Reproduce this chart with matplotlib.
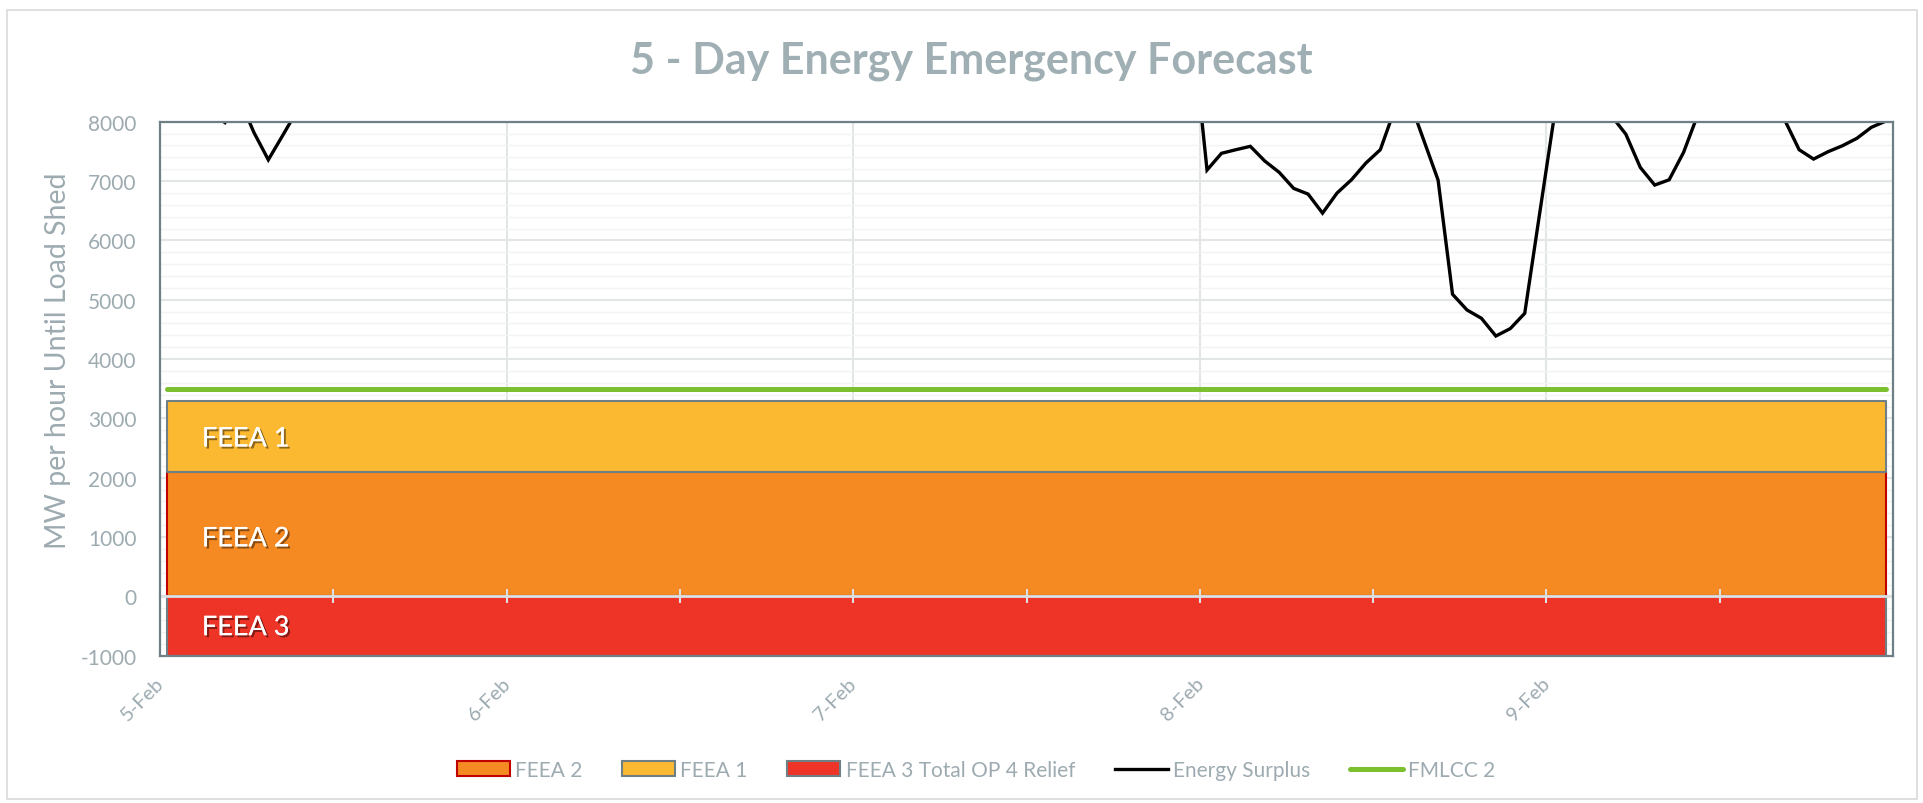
import matplotlib
matplotlib.use('Agg')
import matplotlib.pyplot as plt
import numpy as np
from matplotlib.patches import Rectangle, Patch
from matplotlib.lines import Line2D
from matplotlib.transforms import ScaledTranslation
import matplotlib.patheffects as pe

plt.rcParams['font.family'] = ['Lato', 'DejaVu Sans']
plt.rcParams['axes.unicode_minus'] = False

# ---------------- data ----------------
day_labels = ['5-Feb', '6-Feb', '7-Feb', '8-Feb', '9-Feb']
hours_per_day = 24

# hourly Energy Surplus (MW); values above 8000 are off the visible scale
energy_surplus = [
    # 5-Feb
    8700, 8500, 8350, 8150, 7985, 8390, 7820, 7358, 7770, 8190, 8700, 9100,
    9400, 9600, 9800, 10000, 10100, 10000, 9800, 9700, 9900, 10200, 10500, 10700,
    # 6-Feb
    10800, 10900, 11000, 10900, 10700, 10400, 10000, 9600, 9300, 9200, 9300, 9500,
    9700, 9900, 10000, 9900, 9700, 9500, 9400, 9600, 9900, 10200, 10400, 10500,
    # 7-Feb
    10600, 10700, 10800, 10700, 10500, 10200, 9800, 9400, 9100, 9000, 9100, 9300,
    9500, 9600, 9700, 9600, 9400, 9200, 9100, 9300, 9600, 9900, 10000, 9540,
    # 8-Feb
    7185, 7467, 7528, 7585, 7337, 7146, 6876, 6780, 6459, 6797, 7021, 7303,
    7528, 8212, 8370, 7693, 7016, 5092, 4827, 4687, 4388, 4513, 4771, 6400,
    # 9-Feb
    8020, 9000, 9400, 8900, 8100, 7790, 7230, 6932, 7021, 7484, 8130, 8800,
    9200, 9400, 9100, 8600, 8030, 7528, 7370, 7494, 7595, 7720, 7905, 8010,
]
n_hours = len(energy_surplus)

feea2 = [2100] * n_hours          # stacked from 0
feea1 = [1200] * n_hours          # stacked on top of FEEA 2 (to 3300)
feea3_total_op4 = [-1000] * n_hours
fmlcc2 = [3500] * n_hours

series_names = ['FEEA 2', 'FEEA 1', 'FEEA 3 Total OP 4 Relief', 'Energy Surplus', 'FMLCC 2']

# ---------------- styling ----------------
W, H = 1923, 804
fig = plt.figure(figsize=(W / 100, H / 100), dpi=100)
fig.patch.set_facecolor('white')

ax_left, ax_right, ax_top, ax_bottom = 160, 1893, 122.7, 656.7
ax = fig.add_axes([ax_left / W, 1 - ax_bottom / H, (ax_right - ax_left) / W, (ax_bottom - ax_top) / H])

c_text = '#9DABB1'
c_yellow = '#FBB931'
c_orange = '#F48A21'
c_red = '#EE3427'
c_green = '#7CBF2F'
c_edge = '#6F7F86'
c_rededge = '#C00000'

x = np.arange(n_hours) + 0.5
e = np.array(energy_surplus, dtype=float)
f2 = np.array(feea2, dtype=float)
f1 = np.array(feea1, dtype=float)
f3 = np.array(feea3_total_op4, dtype=float)
g = np.array(fmlcc2, dtype=float)

ax.set_xlim(0, n_hours)
ax.set_ylim(-1000, 8000)

# gridlines
ax.set_yticks(np.arange(-1000, 8001, 1000))
ax.set_yticks(np.arange(-1000, 8001, 200), minor=True)
ax.grid(which='major', axis='y', color='#E3E6E7', lw=1.5, zorder=0)
ax.grid(which='minor', axis='y', color='#F2F3F4', lw=1.0, zorder=0)
ax.set_axisbelow(True)
for d in range(1, len(day_labels)):
    ax.axvline(d * hours_per_day, color='#E3E6E7', lw=1.5, zorder=0.5)

# stacked areas
ax.fill_between(x, 0, f2, facecolor=c_orange, edgecolor=c_rededge, lw=1.5, zorder=2)
ax.fill_between(x, f2, f2 + f1, facecolor=c_yellow, edgecolor=c_edge, lw=1.5, zorder=2.1)
ax.fill_between(x, f3, 0, facecolor=c_red, edgecolor=c_edge, lw=1.5, zorder=2)

# category axis line at 0 with tick marks
ax.axhline(0, color='#DDE0E2', lw=2, zorder=3)
tick_pos = np.arange(0, n_hours + 1, 12)
ax.plot(tick_pos, np.zeros(len(tick_pos)), ls='none', marker='|', markersize=9.5,
        markeredgewidth=1.5, color='#DDE0E2', zorder=3, clip_on=False)

# lines
ax.plot(x, g, color=c_green, lw=3.6, solid_capstyle='round', zorder=4)
ax.plot(x, e, color='black', lw=2.4, zorder=5, solid_joinstyle='miter')

# area labels
shadow = [pe.withSimplePatchShadow(offset=(1.5, -1.5), shadow_rgbFace='black', alpha=0.45), pe.Normal()]
for txt, yv in [('FEEA 1', 2653), ('FEEA 2', 969), ('FEEA 3', -528)]:
    ax.text(2.9, yv, txt, color='white', fontsize=19.5, ha='left', va='center', zorder=6, path_effects=shadow)

# spines
for s in ax.spines.values():
    s.set_color(c_edge)
    s.set_linewidth(1.6)
    s.set_zorder(6)

# y ticks
ax.tick_params(axis='y', which='both', length=0, pad=17, labelsize=15, labelcolor=c_text)
ax.set_ylabel('MW per hour Until Load Shed', fontsize=20.5, color=c_text)
ax.yaxis.set_label_coords(-0.0514, 0.554)

# x ticks
ax.set_xticks([x[d * hours_per_day] for d in range(len(day_labels))])
ax.set_xticklabels(day_labels)
ax.tick_params(axis='x', length=0, pad=13, labelsize=14.5, labelcolor=c_text)
for lab in ax.get_xticklabels():
    lab.set_rotation(45)
    lab.set_ha('right')
    lab.set_va('top')
    lab.set_rotation_mode('anchor')
    lab.set_transform(lab.get_transform() + ScaledTranslation(-0.12, 0, fig.dpi_scale_trans))

# title
fig.text(971 / W, 1 - 61 / H, '5 - Day Energy Emergency Forecast', ha='center', va='center',
         fontsize=31, fontweight='bold', color='#A0AFB4')

# legend
handles = [
    Patch(facecolor=c_orange, edgecolor=c_rededge, lw=1.5),
    Patch(facecolor=c_yellow, edgecolor=c_edge, lw=1.5),
    Patch(facecolor=c_red, edgecolor=c_edge, lw=1.5),
    Line2D([0], [0], color='black', lw=2.4),
    Line2D([0], [0], color=c_green, lw=3.6, solid_capstyle='round'),
]
leg = fig.legend(handles, series_names, loc='center', bbox_to_anchor=(976 / W, 1 - 771 / H), ncol=5,
                 frameon=False, fontsize=15, handlelength=2.55, handleheight=0.7, handletextpad=0.25,
                 columnspacing=1.9, labelcolor=c_text)

# outer chart border
fig.add_artist(Rectangle((7 / W, 4 / H), (1917 - 7) / W, (H - 11 - 4) / H, transform=fig.transFigure,
                         facecolor='none', edgecolor='#D9D9D9', lw=1.2))

fig.savefig('out.png', dpi=100, facecolor='white')
